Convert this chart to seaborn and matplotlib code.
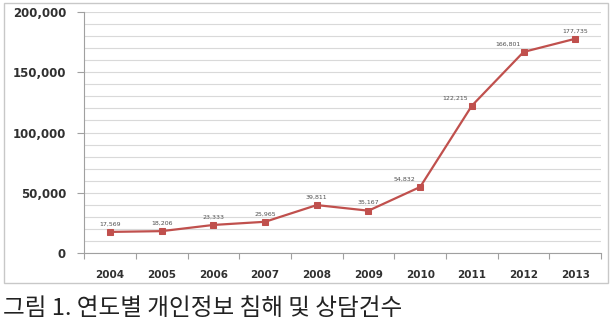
import matplotlib
matplotlib.use("Agg")
import matplotlib.pyplot as plt
import matplotlib.ticker as mticker
from matplotlib.patches import Rectangle
import pandas as pd
import seaborn as sns

years = ["2004", "2005", "2006", "2007", "2008", "2009", "2010", "2011", "2012", "2013"]
cases = [17569, 18206, 23333, 25965, 39811, 35167, 54832, 122215, 166801, 177735]
caption = "그림 1. 연도별 개인정보 침해 및 상담건수"

df = pd.DataFrame({"year": years, "cases": cases})

sns.set_theme(style="white")
plt.rcParams["font.family"] = ["DejaVu Sans", "Noto Sans CJK KR"]

fig = plt.figure(figsize=(6.14, 3.22), dpi=100)
ax = fig.add_axes([0.137, 0.214, 0.842, 0.749])

# outer chart frame
fig.patches.append(Rectangle((0.007, 0.12), 0.983, 0.87, transform=fig.transFigure,
                             fill=False, edgecolor="#c8c8c8", linewidth=1.0))

sns.lineplot(data=df, x="year", y="cases", ax=ax, color="#c0504d", linewidth=1.6,
             marker="s", markersize=5, markeredgecolor="#c0504d", sort=False)

# labels on the steep part sit a bit left of the point so the line stays clear
shift = [0, 0, 0, 0, 0, 0, -0.3, -0.33, -0.3, 0]
for i, v in enumerate(cases):
    ax.text(i + shift[i], v + 4500, f"{v:,}", ha="center", va="bottom", fontsize=4.5,
            color="#505050")

ax.set_xlim(-0.5, len(years) - 0.5)
ax.set_ylim(0, 200000)
ax.yaxis.set_major_locator(mticker.MultipleLocator(50000))
ax.yaxis.set_minor_locator(mticker.MultipleLocator(10000))
ax.yaxis.set_major_formatter(mticker.FuncFormatter(lambda v, p: f"{int(v):,}"))
ax.set_xticks(range(len(years)))
ax.set_xticklabels(years)
ax.xaxis.set_minor_locator(mticker.FixedLocator([i + 0.5 for i in range(-1, len(years))]))

ax.grid(which="both", axis="y", color="#d9d9d9", linewidth=0.8)
ax.set_axisbelow(True)
for s in ["top", "right"]:
    ax.spines[s].set_visible(False)
for s in ["left", "bottom"]:
    ax.spines[s].set_color("#a0a0a0")
    ax.spines[s].set_linewidth(0.8)

ax.tick_params(axis="y", which="major", left=True, length=5, width=0.8, color="#a0a0a0",
               pad=8, labelsize=8.5, labelcolor="#303030")
ax.tick_params(axis="y", which="minor", left=False)
ax.tick_params(axis="x", which="major", bottom=False, pad=6, labelsize=7.5, labelcolor="#303030")
ax.tick_params(axis="x", which="minor", bottom=True, length=4, width=0.8, color="#a0a0a0")
for lbl in ax.get_yticklabels() + ax.get_xticklabels():
    lbl.set_fontweight("bold")

ax.set_xlabel("")
ax.set_ylabel("")

fig.text(0.005, 0.022, caption, fontsize=17, color="#222222",
         family=["Noto Sans CJK KR", "DejaVu Sans"], ha="left", va="baseline")

fig.savefig("out.png", dpi=100)
